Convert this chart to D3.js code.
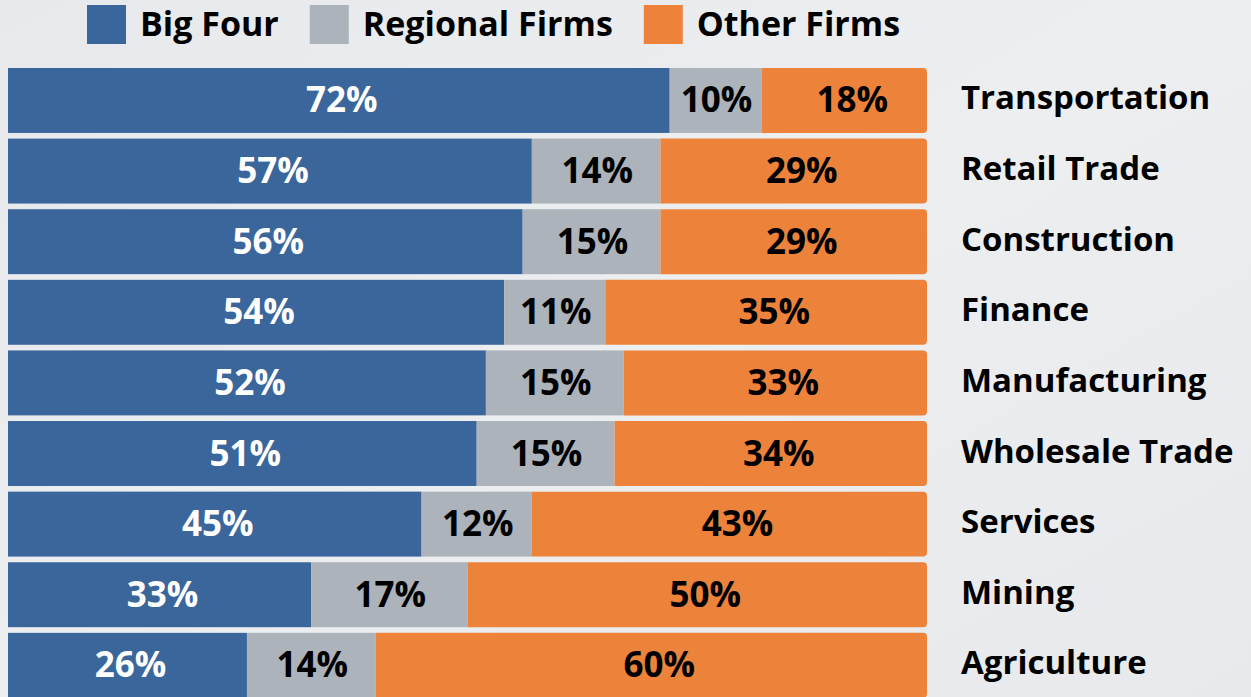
<!DOCTYPE html>
<html>
<head>
<meta charset="utf-8">
<script src="https://cdn.jsdelivr.net/npm/d3@7"></script>
<style>
  html, body { margin: 0; padding: 0; background: #e9ebee; }
  svg { display: block; }
  text { font-family: "Open Sans", "Noto Sans", sans-serif; font-weight: 700; }
</style>
</head>
<body>
<svg id="chart" width="1251" height="697"></svg>
<script>
const categories = ["Transportation", "Retail Trade", "Construction", "Finance", "Manufacturing", "Wholesale Trade", "Services", "Mining", "Agriculture"];
const seriesNames = ["Big Four", "Regional Firms", "Other Firms"];
const bigFour  = [72, 57, 56, 54, 52, 51, 45, 33, 26];
const regional = [10, 14, 15, 11, 15, 15, 12, 17, 14];
const other    = [18, 29, 29, 35, 33, 34, 43, 50, 60];
const colors = ["#3a669c", "#adb3ba", "#ed833b"];
const labelColors = ["#ffffff", "#000000", "#000000"];
const labelShift = [3, 1, 8];

const W = 1251, H = 697;
const svg = d3.select("#chart");

// background
const defs = svg.append("defs");
const grad = defs.append("linearGradient").attr("id", "bg").attr("x1", "0").attr("y1", "0").attr("x2", "1").attr("y2", "1");
grad.append("stop").attr("offset", "0%").attr("stop-color", "#e7e9ec");
grad.append("stop").attr("offset", "50%").attr("stop-color", "#eceef0");
grad.append("stop").attr("offset", "100%").attr("stop-color", "#e7e9ec");
svg.append("rect").attr("width", W).attr("height", H).attr("fill", "url(#bg)");

const x = d3.scaleLinear().domain([0, 100]).range([8, 927]);
const y = d3.scaleBand().domain(categories).range([68, 697.8]).paddingInner(0.08).paddingOuter(0);

const rows = categories.map((c, i) => {
  const vals = [bigFour[i], regional[i], other[i]];
  let acc = 0;
  return { cat: c, segs: vals.map((v, k) => { const s = { k, v, x0: acc, x1: acc + v }; acc += v; return s; }) };
});

const bh = y.bandwidth();
const r = 4;
const g = svg.append("g");
rows.forEach(row => {
  const y0 = y(row.cat);
  row.segs.forEach(s => {
    const xa = x(s.x0), xb = x(s.x1);
    if (s.k === 2) {
      const p = d3.path();
      p.moveTo(xa, y0);
      p.lineTo(xb - r, y0);
      p.quadraticCurveTo(xb, y0, xb, y0 + r);
      p.lineTo(xb, y0 + bh - r);
      p.quadraticCurveTo(xb, y0 + bh, xb - r, y0 + bh);
      p.lineTo(xa, y0 + bh);
      p.closePath();
      g.append("path").attr("d", p.toString()).attr("fill", colors[s.k]);
    } else {
      g.append("rect").attr("x", xa).attr("y", y0).attr("width", xb - xa).attr("height", bh).attr("fill", colors[s.k]);
    }
  });
  row.segs.forEach(s => {
    g.append("text")
      .attr("x", (x(s.x0) + x(s.x1)) / 2 + labelShift[s.k])
      .attr("y", y0 + bh / 2 + 12)
      .attr("text-anchor", "middle")
      .attr("font-size", 35)
      .attr("fill", labelColors[s.k])
      .text(s.v + "%");
  });
  svg.append("text")
    .attr("x", 961)
    .attr("y", y0 + bh / 2 + 9)
    .attr("font-size", 33)
    .attr("fill", "#000")
    .text(row.cat);
});

// legend
let lx = 87;
seriesNames.forEach((n, k) => {
  svg.append("rect").attr("x", lx).attr("y", 5).attr("width", 39).attr("height", 39).attr("fill", colors[k]);
  const t = svg.append("text").attr("x", lx + 53).attr("y", 36).attr("font-size", 34).attr("fill", "#000").text(n);
  lx += 53 + t.node().getComputedTextLength() + 31;
});
</script>
</body>
</html>
